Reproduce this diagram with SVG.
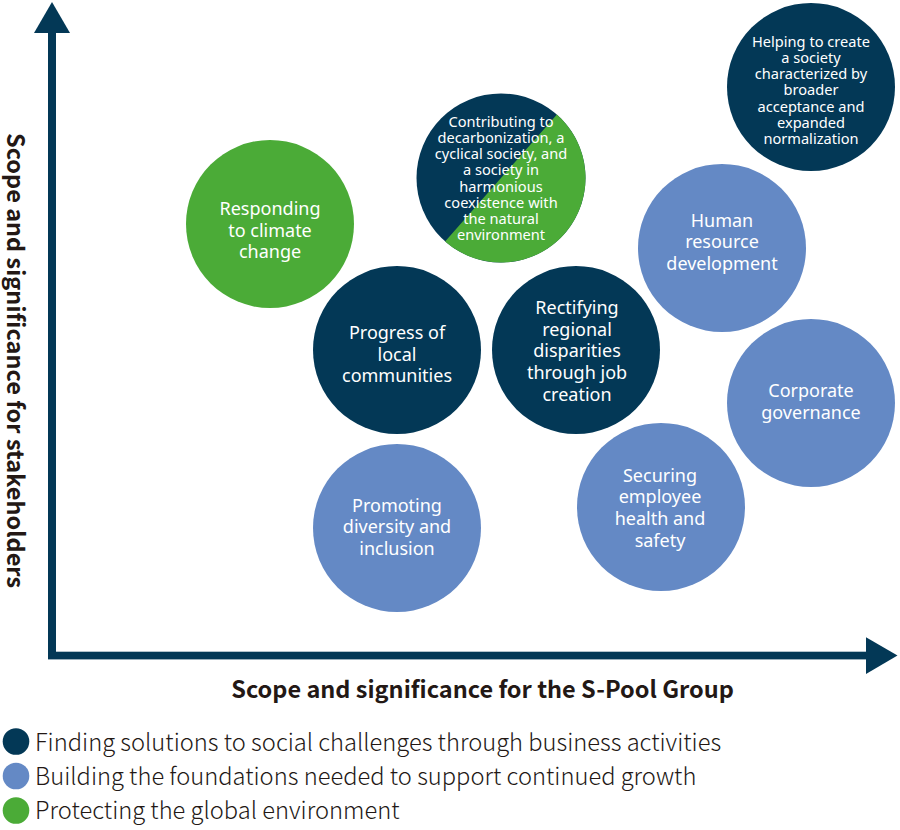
<svg xmlns="http://www.w3.org/2000/svg" width="900" height="830" viewBox="0 0 900 830">
<style>
.navy{fill:#033856}
.blue{fill:#6489C5}
.green{fill:#4BAB37}
.ct{font-family:"Noto Sans","DejaVu Sans",sans-serif;font-size:18px;fill:#fff;text-anchor:middle}
.cs{font-family:"Noto Sans","DejaVu Sans",sans-serif;font-size:14.6px;fill:#fff;text-anchor:middle}
.ax{font-family:"Noto Sans CJK JP","Noto Sans",sans-serif;font-size:23.5px;font-weight:bold;fill:#231815}
.lg{font-family:"Noto Sans CJK JP","Noto Sans",sans-serif;font-size:23.7px;font-weight:300;fill:#231815}
</style>
<rect width="900" height="830" fill="#fff"/>
<g id="axes">
<rect x="48" y="30" width="8" height="629" class="navy"/>
<polygon points="52,2 70,33 34,33" class="navy"/>
<rect x="48" y="651.7" width="820" height="7.7" class="navy"/>
<polygon points="897.5,655.5 866,637.3 866,674" class="navy"/>
</g>
<g id="axis-labels">
<text class="ax" transform="translate(7,360.5) rotate(90)" text-anchor="middle">Scope and significance for stakeholders</text>
<text class="ax" x="482.5" y="698" text-anchor="middle">Scope and significance for the S-Pool Group</text>
</g>
<g id="node-normalization">
<circle cx="811" cy="87" r="84" class="navy"/>
<text class="cs"><tspan x="811" y="47">Helping to create</tspan><tspan x="811" y="63">a society</tspan><tspan x="811" y="79">characterized by</tspan><tspan x="811" y="95">broader</tspan><tspan x="811" y="111.5">acceptance and</tspan><tspan x="811" y="127.5">expanded</tspan><tspan x="811" y="143.5">normalization</tspan></text>
</g>
<g id="node-decarbonization">
<circle cx="501" cy="178" r="84.5" class="navy"/>
<path d="M556.9 114.6 A84.5 84.5 0 0 1 445.1 241.4 Z" class="green"/>
<text class="cs"><tspan x="501" y="127">Contributing to</tspan><tspan x="501" y="143">decarbonization, a</tspan><tspan x="501" y="159">cyclical society, and</tspan><tspan x="501" y="175">a society in</tspan><tspan x="501" y="191.5">harmonious</tspan><tspan x="501" y="207.8">coexistence with</tspan><tspan x="501" y="224">the natural</tspan><tspan x="501" y="240">environment</tspan></text>
</g>
<g id="node-climate">
<circle cx="270" cy="224" r="84" class="green"/>
<text class="ct"><tspan x="270" y="215">Responding</tspan><tspan x="270" y="236.7">to climate</tspan><tspan x="270" y="258.3">change</tspan></text>
</g>
<g id="node-human">
<circle cx="722" cy="248" r="84" class="blue"/>
<text class="ct"><tspan x="722" y="226.7">Human</tspan><tspan x="722" y="248.3">resource</tspan><tspan x="722" y="270">development</tspan></text>
</g>
<g id="node-local">
<circle cx="397" cy="350" r="84" class="navy"/>
<text class="ct"><tspan x="397" y="339">Progress of</tspan><tspan x="397" y="360.7">local</tspan><tspan x="397" y="382.3">communities</tspan></text>
</g>
<g id="node-regional">
<circle cx="576" cy="350" r="84" class="navy"/>
<text class="ct"><tspan x="577" y="314">Rectifying</tspan><tspan x="577" y="335.7">regional</tspan><tspan x="577" y="357.3">disparities</tspan><tspan x="577" y="379">through job</tspan><tspan x="577" y="400.7">creation</tspan></text>
</g>
<g id="node-governance">
<circle cx="811" cy="403" r="84" class="blue"/>
<text class="ct"><tspan x="811" y="397.3">Corporate</tspan><tspan x="811" y="419">governance</tspan></text>
</g>
<g id="node-safety">
<circle cx="661" cy="507" r="84" class="blue"/>
<text class="ct"><tspan x="660" y="481.7">Securing</tspan><tspan x="660" y="503.3">employee</tspan><tspan x="660" y="525">health and</tspan><tspan x="660" y="546.7">safety</tspan></text>
</g>
<g id="node-diversity">
<circle cx="397" cy="528" r="84" class="blue"/>
<text class="ct"><tspan x="397" y="511.7">Promoting</tspan><tspan x="397" y="533.3">diversity and</tspan><tspan x="397" y="555">inclusion</tspan></text>
</g>
<g id="legend">
<circle cx="16" cy="741.5" r="13.3" class="navy"/>
<circle cx="16" cy="776" r="13.3" class="blue"/>
<circle cx="16" cy="810.5" r="13.3" class="green"/>
<text class="lg" x="35" y="750.5">Finding solutions to social challenges through business activities</text>
<text class="lg" x="35" y="785">Building the foundations needed to support continued growth</text>
<text class="lg" x="35" y="819">Protecting the global environment</text>
</g>
</svg>
